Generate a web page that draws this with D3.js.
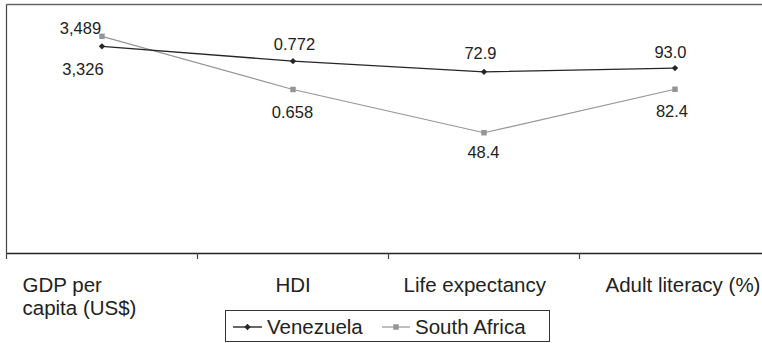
<!DOCTYPE html>
<html>
<head>
<meta charset="utf-8">
<script src="https://cdn.jsdelivr.net/npm/d3@7"></script>
<style>
  html, body { margin: 0; padding: 0; background: #fff; }
  svg { display: block; font-family: "Liberation Sans", Arial, sans-serif; }
</style>
</head>
<body>
<svg id="chart" width="762" height="343"></svg>
<script>
// ---- Data ----
const categories = ["GDP per capita (US$)", "HDI", "Life expectancy", "Adult literacy (%)"];
const categoryLines = [["GDP per", "capita (US$)"], ["HDI"], ["Life expectancy"], ["Adult literacy (%)"]];
const seriesNames = ["Venezuela", "South Africa"];
// plotted (rescaled) values: GDP/40, HDI*100, life expectancy, literacy*0.8
const venezuelaValues = [83.15, 77.2, 72.9, 74.4];
const southAfricaValues = [87.2, 65.8, 48.4, 65.9];
// labels shown next to points (original values)
const venezuelaLabels = ["3,326", "0.772", "72.9", "93.0"];
const southAfricaLabels = ["3,489", "0.658", "48.4", "82.4"];
const yDomain = [0, 100];

(function () {
// ---- Layout ----
const svg = d3.select("#chart");
const plotLeft = 6.5, bandW = 191, plotTop = 4.5, plotBottom = 253;

const x = d3.scaleBand().domain(categories).range([plotLeft, plotLeft + bandW * categories.length]).padding(0);
const y = d3.scaleLinear().domain(yDomain).range([plotBottom, plotTop]);
const cx = c => x(c) + x.bandwidth() / 2;

// plot frame (top + left)
svg.append("line").attr("x1", plotLeft).attr("x2", 762).attr("y1", plotTop).attr("y2", plotTop)
  .attr("stroke", "#666").attr("stroke-width", 1.5);
svg.append("line").attr("x1", plotLeft).attr("x2", plotLeft).attr("y1", plotTop).attr("y2", plotBottom)
  .attr("stroke", "#444").attr("stroke-width", 1.2);

// x axis
const xAxis = d3.axisBottom(x).tickSize(0).tickFormat("");
const gx = svg.append("g").attr("transform", `translate(0,${plotBottom})`).call(xAxis);
gx.select(".domain").attr("stroke", "#222").attr("stroke-width", 1.3);
// boundary ticks
const boundaries = categories.map(c => x(c)).concat([x(categories[categories.length - 1]) + x.bandwidth()]);
gx.selectAll(".btick").data(boundaries).enter().append("line")
  .attr("class", "btick").attr("x1", d => d).attr("x2", d => d)
  .attr("y1", 0).attr("y2", 6).attr("stroke", "#444").attr("stroke-width", 1.2);

// category labels
const catDx = [-79.5, -17.5, -80.5, -69.5];
categories.forEach((c, i) => {
  const t = svg.append("text")
    .attr("x", cx(c) + catDx[i]).attr("y", 291.5)
    .attr("font-size", 20.5).attr("fill", "#222");
  categoryLines[i].forEach((ln, j) => {
    t.append("tspan").attr("x", cx(c) + catDx[i]).attr("dy", j === 0 ? 0 : 23.5).text(ln);
  });
});

// ---- Series ----
const series = [
  { name: seriesNames[0], values: venezuelaValues, labels: venezuelaLabels, color: "#262626", width: 1.4, shape: d3.symbolSquare, size: 20, rot: 45,
    ldx: [-19, 1.5, -3.5, -4.5], ldy: [28.5, -11, -13, -10] },
  { name: seriesNames[1], values: southAfricaValues, labels: southAfricaLabels, color: "#959595", width: 1.2, shape: d3.symbolSquare, size: 30, rot: 0,
    ldx: [-21.5, -0.5, -0.5, -3], ldy: [-2.5, 29, 25.5, 27.5] }
];

const line = d3.line().x((d, i) => cx(categories[i])).y(d => y(d));

[series[1], series[0]].forEach(s => {
  svg.append("path").datum(s.values).attr("d", line)
    .attr("fill", "none").attr("stroke", s.color).attr("stroke-width", s.width);
  svg.selectAll(null).data(s.values).enter().append("path")
    .attr("d", d3.symbol().type(s.shape).size(s.size))
    .attr("transform", (d, i) => `translate(${cx(categories[i])},${y(d)}) rotate(${s.rot})`)
    .attr("fill", s.color);
  svg.selectAll(null).data(s.values).enter().append("text")
    .attr("x", (d, i) => cx(categories[i]) + s.ldx[i])
    .attr("y", (d, i) => y(d) + s.ldy[i])
    .attr("text-anchor", "middle").attr("font-size", 16.5).attr("fill", "#222")
    .text((d, i) => s.labels[i]);
});

// ---- Legend ----
const lg = svg.append("g");
lg.append("rect").attr("x", 225.5).attr("y", 310.5).attr("width", 324).attr("height", 31)
  .attr("fill", "#fff").attr("stroke", "#333").attr("stroke-width", 1);
const legendItems = [
  { s: series[0], x0: 233, x1: 262, tx: 267 },
  { s: series[1], x0: 382, x1: 410, tx: 415 }
];
legendItems.forEach(it => {
  lg.append("line").attr("x1", it.x0).attr("x2", it.x1).attr("y1", 327).attr("y2", 327)
    .attr("stroke", it.s.color).attr("stroke-width", it.s.width);
  lg.append("path").attr("d", d3.symbol().type(it.s.shape).size(it.s.size))
    .attr("transform", `translate(${(it.x0 + it.x1) / 2},327) rotate(${it.s.rot})`).attr("fill", it.s.color);
  lg.append("text").attr("x", it.tx).attr("y", 334).attr("font-size", 20.5).attr("fill", "#222")
    .text(it.s.name);
});
})();
</script>
</body>
</html>
